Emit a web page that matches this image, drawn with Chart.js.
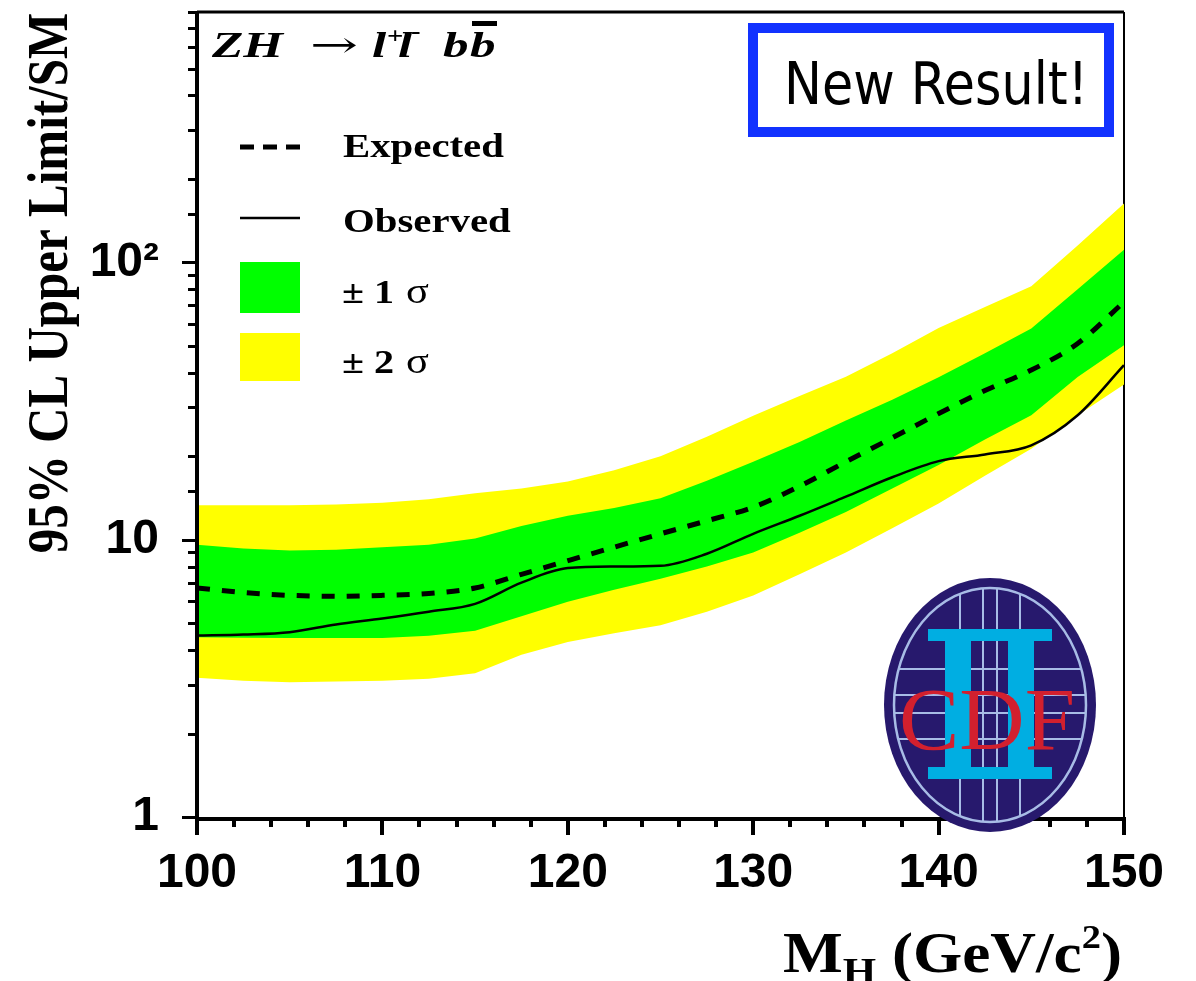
<!DOCTYPE html>
<html>
<head>
<meta charset="utf-8">
<script src="https://cdn.jsdelivr.net/npm/chart.js@4.4.1/dist/chart.umd.min.js"></script>
<style>
    html, body { margin: 0; padding: 0; background: #fff; }
</style>
</head>
<body>
<canvas id="limits" width="1196" height="981"></canvas>
<script>
// Higgs mass points (GeV/c^2) and 95% CL limits / SM
const masses   = [100, 102.5, 105, 107.5, 110, 112.5, 115, 117.5, 120, 122.5, 125, 127.5, 130, 132.5, 135, 137.5, 140, 142.5, 145, 147.5, 150];
const observed = [4.51, 4.55, 4.64, 4.95, 5.2, 5.5, 5.87, 7.0, 7.9, 8.0, 8.05, 8.9, 10.5, 12.2, 14.3, 16.8, 19.2, 20.3, 21.9, 28.1, 42.6];
const expected = [6.7, 6.45, 6.3, 6.25, 6.3, 6.4, 6.7, 7.5, 8.4, 9.4, 10.5, 11.7, 13.1, 15.6, 19.1, 23.3, 28.5, 34.5, 40.9, 51, 72];
const plus2    = [13.3, 13.3, 13.3, 13.4, 13.6, 14.0, 14.7, 15.3, 16.2, 17.8, 20, 23.5, 28, 33, 38.7, 47, 58, 69, 82, 115, 163];
const plus1    = [9.6, 9.3, 9.15, 9.2, 9.4, 9.6, 10.1, 11.2, 12.2, 13.0, 14.1, 16.3, 19.1, 22.5, 26.9, 32, 38.5, 47, 57.8, 80, 111];
const minus1   = [4.45, 4.43, 4.42, 4.42, 4.42, 4.5, 4.7, 5.3, 5.97, 6.6, 7.23, 8.0, 9.0, 10.6, 12.6, 15.3, 18.6, 23, 28.1, 38.6, 50.3];
const minus2   = [3.18, 3.1, 3.06, 3.08, 3.1, 3.15, 3.3, 3.85, 4.28, 4.6, 4.91, 5.5, 6.29, 7.5, 9.0, 11.0, 13.5, 17, 21.3, 28.1, 36.3];

// tick labels
const xTickLabels = [100, 110, 120, 130, 140, 150];
const yLabelValues = [1, 10, 100];
const yLabelTexts = ['1', '10', '10²'];

const SX = 1.18; // the original figure is a bit wide, text is stretched
const serif = '"Liberation Serif", "Times New Roman", serif';

function pts(arr) {
    return masses.map((m, i) => ({ x: m, y: arr[i] }));
}

function wideText(ctx, text, x, y, sx = SX) {
    ctx.save();
    ctx.translate(x, y);
    ctx.scale(sx, 1);
    ctx.fillText(text, 0, 0);
    ctx.restore();
    return ctx.measureText(text).width * sx;
}

function isDecade(v) {
    const lg = Math.log10(v);
    return Math.abs(lg - Math.round(lg)) < 1e-6;
}

const decorations = {
    id: 'decorations',
    beforeDatasetsDraw(chart) {
        const { ctx, chartArea: a } = chart;
        ctx.save();
        ctx.strokeStyle = '#000';
        ctx.lineWidth = 2;
        ctx.beginPath();
        ctx.moveTo(a.right, a.top);
        ctx.lineTo(a.right, a.bottom);
        ctx.stroke();
        ctx.restore();
    },
    afterDraw(chart) {
        const { ctx, chartArea: a } = chart;
        const xs = chart.scales.x, ys = chart.scales.y;
        ctx.save();

        // frame
        ctx.strokeStyle = '#000';
        ctx.lineWidth = 3;
        ctx.beginPath();
        ctx.moveTo(a.left, a.top);
        ctx.lineTo(a.right, a.top);
        ctx.stroke();
        ctx.lineWidth = 4;
        ctx.beginPath();
        ctx.moveTo(a.left, a.top - 1);
        ctx.lineTo(a.left, a.bottom + 2);
        ctx.lineTo(a.right + 1, a.bottom + 2);
        ctx.stroke();

        // tick marks, long at decades / every 10 GeV
        ctx.lineWidth = 3;
        ys.ticks.forEach(t => {
            const y = Math.round(ys.getPixelForValue(t.value)) + 0.5;
            const len = isDecade(t.value) ? 15 : 9;
            ctx.beginPath();
            ctx.moveTo(a.left - len, y);
            ctx.lineTo(a.left, y);
            ctx.stroke();
        });
        ctx.lineWidth = 4;
        xs.ticks.forEach(t => {
            const x = Math.round(xs.getPixelForValue(t.value));
            const len = t.value % 10 === 0 ? 18 : 10;
            ctx.beginPath();
            ctx.moveTo(x, a.bottom);
            ctx.lineTo(x, a.bottom + len);
            ctx.stroke();
        });

        ctx.fillStyle = '#000';
        ctx.textBaseline = 'alphabetic';

        // process label
        ctx.font = 'italic bold 36px ' + serif;
        wideText(ctx, 'ZH', 212, 57, 1.42);
        wideText(ctx, 'l', 372, 57, 1.42);
        wideText(ctx, 'l', 398, 57, 1.42);
        wideText(ctx, 'b', 443, 57, 1.42);
        wideText(ctx, 'b', 470, 57, 1.42);
        ctx.font = '36px "DejaVu Serif", serif';
        const aw = ctx.measureText('→').width;
        wideText(ctx, '→', 310, 57, 48 / aw);
        ctx.font = 'bold 24px ' + serif;
        wideText(ctx, '+', 387, 43, 1.2);
        wideText(ctx, '-', 411, 39, 1.2);
        ctx.fillRect(472, 21, 25, 5);

        // legend
        ctx.strokeStyle = '#000';
        ctx.lineWidth = 5;
        ctx.setLineDash([14, 9]);
        ctx.beginPath();
        ctx.moveTo(240, 147);
        ctx.lineTo(300, 147);
        ctx.stroke();
        ctx.setLineDash([]);
        ctx.lineWidth = 2.5;
        ctx.beginPath();
        ctx.moveTo(240, 218);
        ctx.lineTo(300, 218);
        ctx.stroke();
        ctx.fillStyle = '#00ff00';
        ctx.fillRect(240, 262, 60, 51);
        ctx.fillStyle = '#ffff00';
        ctx.fillRect(240, 333, 60, 48);
        ctx.fillStyle = '#000';
        ctx.font = 'bold 34px ' + serif;
        wideText(ctx, 'Expected', 343, 157, 1.2);
        wideText(ctx, 'Observed', 343, 232, 1.2);
        wideText(ctx, '± 1', 342, 303);
        wideText(ctx, '± 2', 342, 373);
        ctx.font = '36px ' + serif;
        wideText(ctx, 'σ', 406, 303);
        wideText(ctx, 'σ', 406, 373);

        // "New Result!" box
        ctx.fillStyle = '#1232ff';
        ctx.fillRect(748, 23, 366, 114);
        ctx.fillStyle = '#fff';
        ctx.fillRect(758, 33, 346, 94);
        ctx.fillStyle = '#000';
        ctx.font = '58px "DejaVu Sans", sans-serif';
        const nw = ctx.measureText('New Result!').width;
        wideText(ctx, 'New Result!', 784, 104, 304 / nw);

        // CDF logo
        ctx.save();
        ctx.beginPath();
        ctx.ellipse(990, 705, 106, 127, 0, 0, Math.PI * 2);
        ctx.fillStyle = '#27196d';
        ctx.fill();
        ctx.strokeStyle = '#a8bce6';
        ctx.lineWidth = 2.5;
        ctx.beginPath();
        ctx.ellipse(990, 705, 96, 117, 0, 0, Math.PI * 2);
        ctx.stroke();
        ctx.clip();
        ctx.lineWidth = 2;
        [960, 983, 997, 1020].forEach(x => {
            ctx.beginPath();
            ctx.moveTo(x, 580);
            ctx.lineTo(x, 830);
            ctx.stroke();
        });
        [669, 695, 713, 739].forEach(y => {
            ctx.beginPath();
            ctx.moveTo(880, y);
            ctx.lineTo(1100, y);
            ctx.stroke();
        });
        ctx.restore();
        ctx.fillStyle = '#00aee2';
        ctx.fillRect(928, 629, 124, 12);
        ctx.fillRect(928, 767, 124, 12);
        ctx.fillRect(945, 640, 26, 128);
        ctx.fillRect(1008, 640, 26, 128);
        ctx.fillStyle = '#d2202e';
        ctx.font = '88px ' + serif;
        const cw = ctx.measureText('CDF').width;
        wideText(ctx, 'CDF', 899, 749, 176 / cw);

        // y axis title
        ctx.fillStyle = '#000';
        ctx.save();
        ctx.translate(67, 283);
        ctx.rotate(-Math.PI / 2);
        ctx.scale(1, SX);
        ctx.font = 'bold 49px ' + serif;
        ctx.textAlign = 'center';
        ctx.fillText('95% CL Upper Limit/SM', 0, 0);
        ctx.restore();

        // x axis title
        let x = 783;
        ctx.font = 'bold 56px ' + serif;
        x += wideText(ctx, 'M', x, 972, 1.13);
        ctx.font = 'bold 38px ' + serif;
        x += wideText(ctx, 'H', x, 984, 1.13);
        ctx.font = 'bold 56px ' + serif;
        x += wideText(ctx, ' (GeV/c', x, 972, 1.13);
        ctx.font = 'bold 34px ' + serif;
        x += wideText(ctx, '2', x, 948, 1.13);
        ctx.font = 'bold 56px ' + serif;
        wideText(ctx, ')', x, 972, 1.13);

        ctx.restore();
    }
};

const tickFont = { family: '"Liberation Sans", Arial, sans-serif', weight: 'bold', size: 48 };

new Chart(document.getElementById('limits').getContext('2d'), {
    type: 'line',
    data: {
        datasets: [
            { label: '+2 sigma', data: pts(plus2), fill: '+1', backgroundColor: '#ffff00', borderWidth: 0, pointRadius: 0, order: 10 },
            { label: '-2 sigma', data: pts(minus2), fill: false, borderWidth: 0, pointRadius: 0, order: 9 },
            { label: '+1 sigma', data: pts(plus1), fill: '+1', backgroundColor: '#00ff00', borderWidth: 0, pointRadius: 0, order: 8 },
            { label: '-1 sigma', data: pts(minus1), fill: false, borderWidth: 0, pointRadius: 0, order: 7 },
            { label: 'Expected', data: pts(expected), fill: false, borderColor: '#000', borderWidth: 5, borderDash: [13, 12], pointRadius: 0, cubicInterpolationMode: 'monotone', order: 2 },
            { label: 'Observed', data: pts(observed), fill: false, borderColor: '#000', borderWidth: 2.5, pointRadius: 0, cubicInterpolationMode: 'monotone', order: 1 }
        ]
    },
    options: {
        responsive: false,
        animation: false,
        devicePixelRatio: 1,
        layout: { padding: { top: 12, right: 72, left: 0, bottom: 0 } },
        plugins: {
            legend: { display: false },
            tooltip: { enabled: false }
        },
        scales: {
            x: {
                type: 'linear',
                min: 100,
                max: 150,
                grid: { display: false },
                border: { display: false },
                ticks: {
                    stepSize: 2,
                    autoSkip: false,
                    maxRotation: 0,
                    padding: 20,
                    color: '#000',
                    font: tickFont,
                    callback: v => xTickLabels.includes(v) ? String(v) : ''
                },
                afterFit: s => { s.height = 164; s.paddingLeft = 0; s.paddingRight = 0; }
            },
            y: {
                type: 'logarithmic',
                min: 1,
                max: 800,
                grid: { display: false },
                border: { display: false },
                ticks: {
                    autoSkip: false,
                    padding: 30,
                    color: '#000',
                    font: tickFont,
                    callback: v => {
                        const i = yLabelValues.findIndex(d => Math.abs(d - v) < 1e-6);
                        return i >= 0 ? yLabelTexts[i] : '';
                    }
                },
                afterFit: s => { s.width = 197; s.paddingTop = 0; s.paddingBottom = 0; }
            }
        }
    },
    plugins: [decorations]
});
</script>
</body>
</html>
